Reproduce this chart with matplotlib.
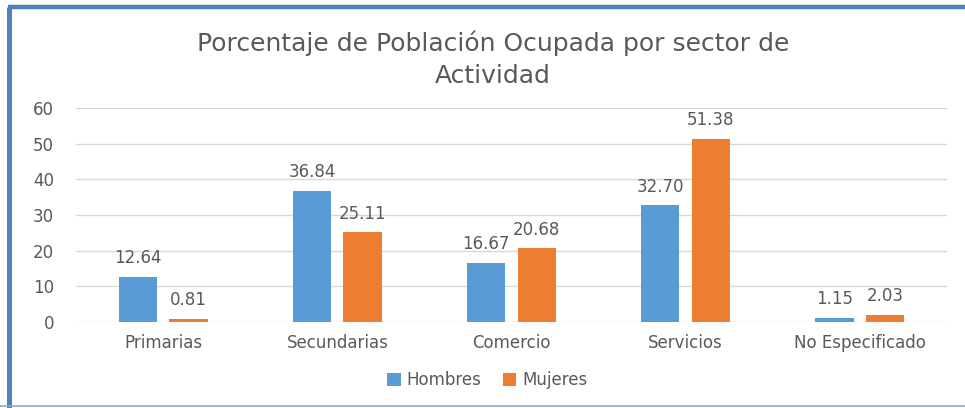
import matplotlib.pyplot as plt
import numpy as np
from matplotlib.lines import Line2D

# data
categories = ['Primarias', 'Secundarias', 'Comercio', 'Servicios', 'No Especificado']
hombres = [12.64, 36.84, 16.67, 32.70, 1.15]
mujeres = [0.81, 25.11, 20.68, 51.38, 2.03]
yticks = [0, 10, 20, 30, 40, 50, 60]

blue = '#5B9BD5'
orange = '#ED7D31'
gray = '#595959'

plt.rcParams['font.family'] = ['DejaVu Sans']

fig = plt.figure(figsize=(9.65, 4.08), dpi=100)
ax = fig.add_axes([0.079, 0.211, 0.902, 0.524])

x = np.arange(len(categories))
w = 0.22
gap = 0.07
b1 = ax.bar(x - (w + gap) / 2, hombres, w, color=blue, label='Hombres', zorder=3)
b2 = ax.bar(x + (w + gap) / 2, mujeres, w, color=orange, label='Mujeres', zorder=3)

for bars, vals in ((b1, hombres), (b2, mujeres)):
    for r, v in zip(bars, vals):
        ax.annotate(f'{v:.2f}', (r.get_x() + r.get_width() / 2, v),
                    xytext=(0, 7), textcoords='offset points',
                    ha='center', va='bottom', fontsize=12, color=gray)

ax.set_xlim(-0.5, len(categories) - 0.5)
ax.set_ylim(0, 60)
ax.set_yticks(yticks)
ax.set_xticks(x)
ax.set_xticklabels(categories)
ax.tick_params(axis='both', length=0, labelsize=12, labelcolor=gray)
ax.tick_params(axis='y', pad=16)
ax.tick_params(axis='x', pad=9)
ax.grid(axis='y', color='#D9D9D9', linewidth=1, zorder=0)
for s in ax.spines.values():
    s.set_visible(False)

fig.text(0.511, 0.855, 'Porcentaje de Población Ocupada por sector de\nActividad',
         ha='center', va='center', fontsize=18, color=gray, linespacing=1.38)

fig.legend(handles=[b1, b2], loc='center', bbox_to_anchor=(0.505, 0.068),
           ncol=2, frameon=False, fontsize=12, labelcolor=gray,
           handlelength=0.8, handleheight=0.8, handletextpad=0.35, columnspacing=1.3)

# frame: thick blue on left and top, thin line at the bottom
fig.lines.append(Line2D([0.0098, 0.0098], [0.0, 0.983], transform=fig.transFigure,
                        color='#4F81BD', linewidth=3.6, solid_capstyle='butt'))
fig.lines.append(Line2D([0.0078, 1.0], [0.983, 0.983], transform=fig.transFigure,
                        color='#4F81BD', linewidth=3.2, solid_capstyle='butt'))
fig.lines.append(Line2D([0.0, 1.0], [0.004, 0.004], transform=fig.transFigure,
                        color='#8FA8C8', linewidth=1.2))

fig.savefig('out.png', dpi=100)
